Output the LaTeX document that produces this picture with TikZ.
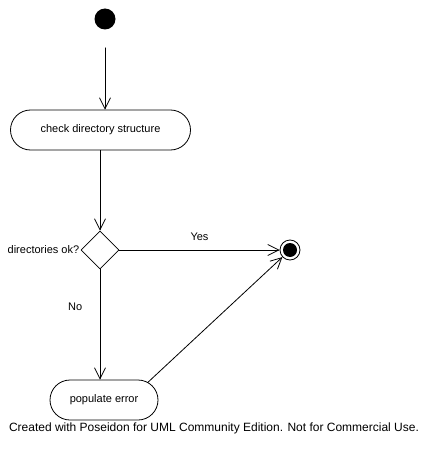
\documentclass[tikz,border=0pt]{standalone}
\usepackage{fontspec}
\setmainfont{Liberation Sans}
\usetikzlibrary{shapes.misc,shapes.geometric,arrows.meta}

\begin{document}
\begin{tikzpicture}[x=1pt, y=-1pt, line join = round, line cap = round, line width=0.8pt,
    every node/.style={font=\fontsize{11}{13}\selectfont},
    action/.style={draw, rounded rectangle, minimum width=180pt, minimum height=40pt, inner sep=0pt},
    decision/.style={draw, diamond, minimum width=38pt, minimum height=38pt, inner sep=0pt},
    startstate/.style={circle, fill=black, minimum size=21pt, inner sep=0pt},
    endstate/.style={circle, draw, minimum size=20pt, inner sep=0pt,
        path picture={\fill (path picture bounding box.center) circle (7pt);}},
    flow/.style={-{Straight Barb[length=11pt, width=11pt]}}]
    \useasboundingbox (0,0) rectangle (429,452);

    \node[startstate] (start) at (105,19) {};
    \node[action] (check) at (100.5,130) {check directory structure};
    \node[decision] (ok) at (100,250) {};
    \node[anchor=east, inner sep=1pt] (oklabel) at (ok.west) {directories ok?};
    \node[endstate] (final) at (290,250) {};
    \node[action, minimum width=108pt] (perr) at (104,400) {populate error};
    \node[font=\fontsize{12}{14}\selectfont] (credit) at (214,428) {Created with Poseidon for UML Community Edition. Not for Commercial Use.};

    %\draw[dashed] (0,0) rectangle (429,452);
    \draw[flow, shorten <=18pt] (start) -- (start |- check.north);
    \draw[flow] (check.south -| ok) -- (ok);
    \draw[flow] (ok) -- node[midway, above=6pt] {Yes} (final);
    \draw[flow] (ok) -- node[pos=0.34, left=14pt] {No} (ok |- perr.north);
    \draw[flow] (perr.22) -- (final);
\end{tikzpicture}
\end{document}
